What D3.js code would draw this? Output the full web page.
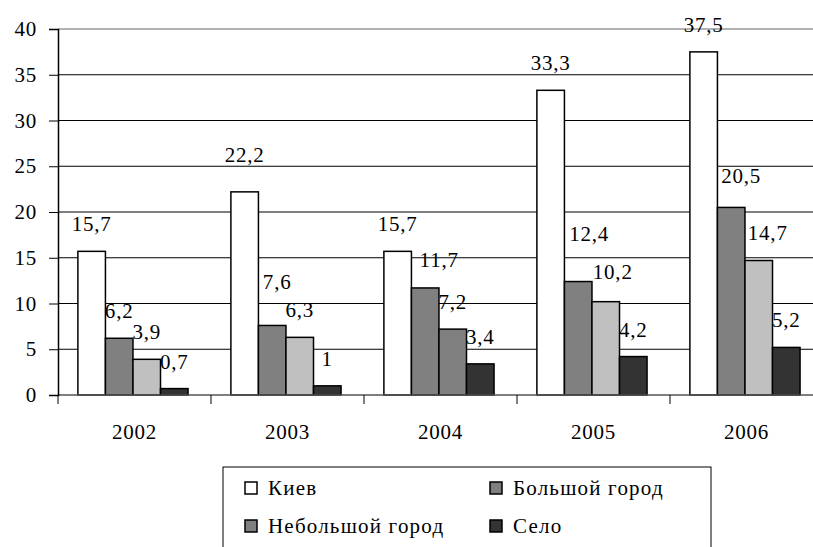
<!DOCTYPE html>
<html>
<head>
<meta charset="utf-8">
<script src="https://cdn.jsdelivr.net/npm/d3@7"></script>
<style>
  body { margin: 0; background: #fff; }
  svg text { font-family: "Liberation Serif", serif !important; font-size: 21px; }
</style>
</head>
<body>
<div id="chart"></div>
<script>
// data
var years = ["2002", "2003", "2004", "2005", "2006"];
var seriesNames = ["Киев", "Большой город", "Небольшой город", "Село"];
var kiev = [15.7, 22.2, 15.7, 33.3, 37.5];
var bigCity = [6.2, 7.6, 11.7, 12.4, 20.5];
var smallCity = [3.9, 6.3, 7.2, 10.2, 14.7];
var village = [0.7, 1, 3.4, 4.2, 5.2];
var yTicks = [0, 5, 10, 15, 20, 25, 30, 35, 40];

var seriesValues = [kiev, bigCity, smallCity, village];
var barColors = ["#ffffff", "#808080", "#c0c0c0", "#333333"];
var legendColors = ["#ffffff", "#808080", "#808080", "#333333"];

// label nudges as in the source picture: "year|series index" -> [dx, extra lift]
var labelNudge = {
  "2003|0": [0, 10], "2003|1": [5, 16],
  "2004|1": [14, 1],
  "2005|1": [11, 21], "2005|2": [7, 3],
  "2006|1": [10, 4], "2006|2": [9, 0]
};

// set the dimensions of the graph
var W = 813, H = 547;
var margin = {top: 29, left: 58, bottom: 152};
var fontSize = 21;
var serif = "Liberation Serif";

var svg = d3.select("#chart")
  .append("svg")
  .attr("width", W)
  .attr("height", H)
  .attr("font-family", serif)
  .attr("font-size", fontSize);

var y = d3.scaleLinear().domain([0, 40]).range([H - margin.bottom, margin.top]);
var x0 = d3.scaleBand().domain(years).range([margin.left, 823]);
var x1 = d3.scaleBand().domain(seriesNames)
  .range([x0.bandwidth() * 0.13, x0.bandwidth() * 0.85]);

// gridlines
svg.append("g")
  .selectAll("line")
  .data(yTicks.filter(function(d) { return d > 0; }))
  .enter().append("line")
  .attr("x1", margin.left).attr("x2", 823)
  .attr("y1", function(d) { return y(d); })
  .attr("y2", function(d) { return y(d); })
  .attr("stroke", function(d) { return d === 40 ? "#999" : "#000"; })
  .attr("stroke-width", function(d) { return d === 40 ? 1.5 : 1; });

// bars
var groups = svg.append("g")
  .selectAll("g")
  .data(years)
  .enter().append("g")
  .attr("transform", function(d) { return "translate(" + x0(d) + ",0)"; });

groups.selectAll("rect")
  .data(function(d, i) {
    return seriesNames.map(function(s, j) { return {yr: d, s: s, j: j, v: seriesValues[j][i]}; });
  })
  .enter().append("rect")
  .attr("x", function(d) { return x1(d.s); })
  .attr("width", x1.bandwidth())
  .attr("y", function(d) { return y(d.v); })
  .attr("height", function(d) { return y(0) - y(d.v); })
  // the 2004 small-city bar is drawn in the darker grey in the original
  .attr("fill", function(d) { return d.yr === "2004" && d.j === 2 ? "#808080" : barColors[d.j]; })
  .attr("stroke", "#000")
  .attr("stroke-width", 1.5);

// value labels
groups.selectAll("text")
  .data(function(d, i) {
    return seriesNames.map(function(s, j) {
      return {s: s, v: seriesValues[j][i], n: labelNudge[d + "|" + j] || [0, 0]};
    });
  })
  .enter().append("text")
  .attr("text-anchor", "middle")
  .attr("font-family", serif)
  .attr("font-size", fontSize)
  .attr("letter-spacing", 0.8)
  .attr("x", function(d) { return x1(d.s) + x1.bandwidth() / 2 + d.n[0]; })
  .attr("y", function(d) { return y(d.v) - 20 - d.n[1]; })
  .text(function(d) { return String(d.v).replace(".", ","); });

// x axis line and ticks
svg.append("line")
  .attr("x1", margin.left).attr("x2", 823)
  .attr("y1", y(0)).attr("y2", y(0))
  .attr("stroke", "#555").attr("stroke-width", 1.5);

svg.append("g")
  .selectAll("line")
  .data(years.concat(["end"]))
  .enter().append("line")
  .attr("x1", function(d, i) { return i < years.length ? x0(d) : x0.range()[1]; })
  .attr("x2", function(d, i) { return i < years.length ? x0(d) : x0.range()[1]; })
  .attr("y1", y(0)).attr("y2", y(0) + 9)
  .attr("stroke", "#000");

svg.append("g")
  .selectAll("text")
  .data(years)
  .enter().append("text")
  .attr("text-anchor", "middle")
  .attr("font-family", serif)
  .attr("font-size", fontSize)
  .attr("letter-spacing", 0.8)
  .attr("x", function(d) { return x0(d) + x0.bandwidth() / 2; })
  .attr("y", 439)
  .text(function(d) { return d; });

// y axis
var yAxis = svg.append("g")
  .attr("transform", "translate(" + margin.left + ",0)")
  .call(d3.axisLeft(y).tickValues(yTicks).tickSize(9).tickPadding(12));
yAxis.attr("font-family", serif).attr("font-size", fontSize);
yAxis.select(".domain").attr("stroke", "#000").attr("stroke-width", 1.5);
yAxis.selectAll(".tick line").attr("stroke", "#000");
yAxis.selectAll(".tick text")
  .attr("font-family", serif)
  .attr("font-size", fontSize)
  .attr("letter-spacing", 0.8)
  .attr("fill", "#000");

// legend
var legend = svg.append("g");
legend.append("rect")
  .attr("x", 223).attr("y", 467)
  .attr("width", 488).attr("height", 100)
  .attr("fill", "#fff").attr("stroke", "#000");

var legendPos = [[245, 488], [490, 488], [245, 526], [490, 526]];
var items = legend.selectAll("g.item")
  .data(seriesNames)
  .enter().append("g")
  .attr("class", "item")
  .attr("transform", function(d, i) { return "translate(" + legendPos[i][0] + "," + legendPos[i][1] + ")"; });

items.append("rect")
  .attr("x", 0).attr("y", -6)
  .attr("width", 12).attr("height", 12)
  .attr("fill", function(d, i) { return legendColors[i]; })
  .attr("stroke", "#000").attr("stroke-width", 1.5);

items.append("text")
  .attr("font-family", serif)
  .attr("font-size", fontSize)
  .attr("letter-spacing", 1.2)
  .attr("x", 23).attr("y", 7)
  .text(function(d) { return d; });
</script>
</body>
</html>
